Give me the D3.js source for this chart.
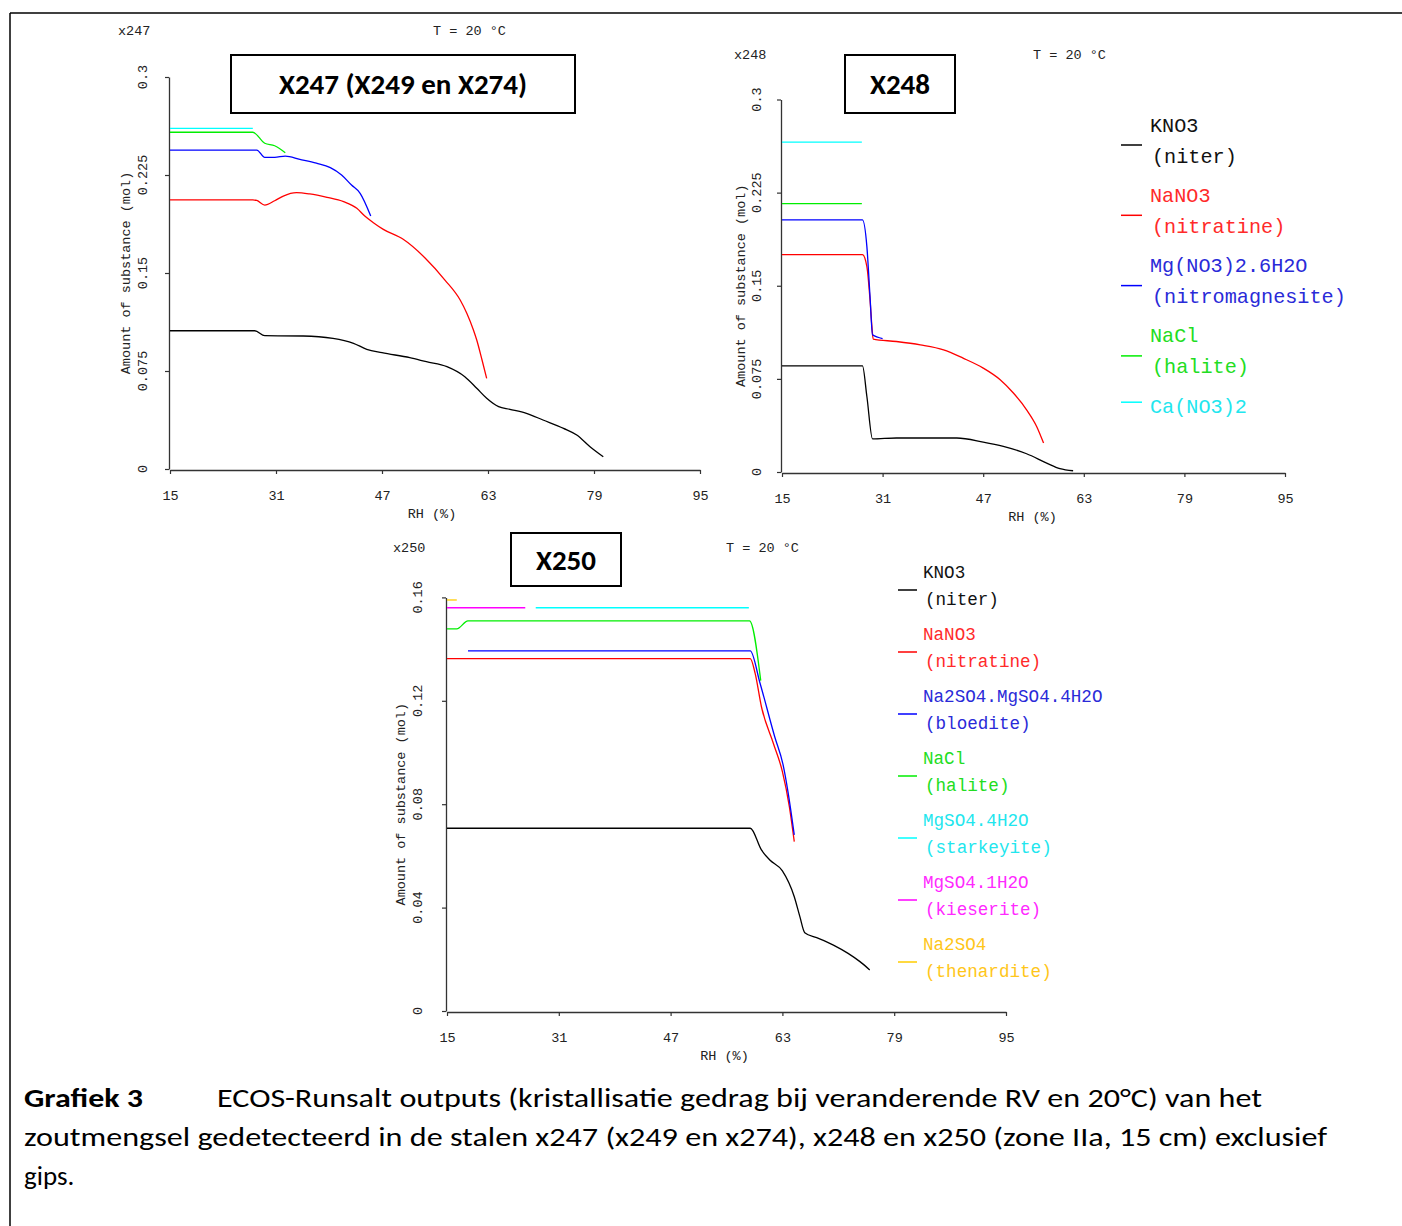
<!DOCTYPE html>
<html><head><meta charset="utf-8">
<script src="https://cdn.jsdelivr.net/npm/d3@7"></script>
<style>body{margin:0;background:#fff}svg{display:block}</style>
</head><body>
<svg id="c" width="1402" height="1226"></svg>
<script>
// ---------- DATA ----------
const RH_TICKS = [15, 31, 47, 63, 79, 95];
const Y_TICKS_A = [0, 0.075, 0.15, 0.225, 0.3];
const Y_TICKS_B = [0, 0.04, 0.08, 0.12, 0.16];

// x247 (x249 en x274)
const x247_KNO3 = [[15,0.1058],[27.8,0.1058],[29.3,0.1020],[35.1,0.1018],[39.6,0.1000],[42.7,0.0962],[44.7,0.0916],[47.0,0.0890],[51.2,0.0852],[53.7,0.0821],[56.8,0.0783],[59.5,0.0706],[61.3,0.0618],[62.8,0.0541],[64.6,0.0477],[66.3,0.0457],[68.8,0.0426],[71.3,0.0375],[74.4,0.0311],[76.4,0.0260],[78.4,0.0171],[80.4,0.0094]];
const x247_NaNO3 = [[15,0.2059],[27.5,0.2059],[28.1,0.2055],[29.3,0.2020],[30.8,0.2053],[32.1,0.2089],[34.1,0.2115],[36.1,0.2105],[38.7,0.2079],[41.2,0.2046],[43.2,0.1995],[44.4,0.1936],[45.7,0.1885],[47.2,0.1834],[50.2,0.1758],[53.5,0.1615],[56.5,0.1446],[58.8,0.1293],[59.8,0.1192],[60.8,0.1064],[61.3,0.0987],[62.1,0.0834],[62.8,0.0694]];
const x247_MgNO3 = [[15,0.2441],[27.5,0.2441],[28.1,0.2441],[29.3,0.2385],[30.8,0.2385],[32.4,0.2395],[34.6,0.2370],[37.1,0.2340],[39.2,0.2306],[40.9,0.2250],[42.4,0.2173],[43.7,0.2110],[45.3,0.1936]];
const x247_NaCl = [[15,0.2577],[27.5,0.2577],[29.3,0.2493],[30.8,0.2474],[32.4,0.2421]];
const x247_CaNO3 = [[15,0.2607],[27.5,0.2607]];

// x248
const x248_KNO3 = [[15,0.0855],[27.8,0.0855],[28.5,0.0608],[29.4,0.0266],[33.2,0.0274],[42.8,0.0274],[47.0,0.0241],[50.2,0.0206],[53.9,0.0147],[57.1,0.0072],[59.2,0.0027],[61.3,0.0010]];
const x248_NaNO3 = [[15,0.1751],[27.8,0.1751],[28.5,0.1654],[29.0,0.1387],[29.3,0.1172],[29.5,0.1070],[33.2,0.1051],[37.0,0.1024],[40.7,0.0984],[43.8,0.0917],[47.0,0.0837],[49.7,0.0743],[51.8,0.0636],[53.9,0.0501],[55.5,0.0367],[56.6,0.0233]];
const x248_MgNO3 = [[15,0.2030],[27.8,0.2030],[28.5,0.1815],[29.0,0.1413],[29.4,0.1105],[31.0,0.1075]];
const x248_NaCl = [[15,0.2161],[27.7,0.2161]];
const x248_CaNO3 = [[15,0.2656],[27.7,0.2656]];

// x250
const x250_KNO3 = [[15,0.0707],[58.4,0.0707],[60.0,0.0623],[61.2,0.0584],[63.0,0.0542],[64.7,0.0442],[65.5,0.0365],[66.2,0.0303],[67.9,0.0284],[70.3,0.0255],[72.4,0.0223],[74.1,0.0191],[75.5,0.0159]];
const x250_NaNO3 = [[15,0.1363],[58.4,0.1363],[59.1,0.1306],[60.0,0.1177],[61.7,0.1036],[63.0,0.0926],[64.0,0.0790],[64.7,0.0655]];
const x250_bloedite = [[18.0,0.1393],[58.4,0.1393],[59.8,0.1268],[61.9,0.1061],[63.1,0.0952],[63.8,0.0848],[64.7,0.0681]];
const x250_NaCl = [[15,0.1478],[16.4,0.1478],[18.0,0.1509],[58.3,0.1509],[59.9,0.1278]];
const x250_starkeyite = [[27.7,0.1560],[58.2,0.1560]];
const x250_kieserite = [[15,0.1560],[26.2,0.1560]];
const x250_thenardite = [[15,0.1590],[16.4,0.1590]];

const legendA = [["KNO3","(niter)"],["NaNO3","(nitratine)"],["Mg(NO3)2.6H2O","(nitromagnesite)"],["NaCl","(halite)"],["Ca(NO3)2",""]];
const legendB = [["KNO3","(niter)"],["NaNO3","(nitratine)"],["Na2SO4.MgSO4.4H2O","(bloedite)"],["NaCl","(halite)"],["MgSO4.4H2O","(starkeyite)"],["MgSO4.1H2O","(kieserite)"],["Na2SO4","(thenardite)"]];

// ---------- STYLE ----------
const LINE_COL = {black:"#000000", red:"#ff0000", blue:"#0000ff", green:"#00ee00", cyan:"#00ffff", magenta:"#ff00ff", yellow:"#ffcc00"};
const TEXT_COL = {black:"#111111", red:"#ff2a2a", blue:"#2a2ad8", green:"#22dd22", cyan:"#22e6ee", magenta:"#ff2aff", yellow:"#ffc61a"};
const MONO = "'Liberation Mono','Courier New',monospace";
const SANS = "Carlito,Lato,'Open Sans',sans-serif";

const svg = d3.select('#c');
svg.append('rect').attr('width',1402).attr('height',1226).attr('fill','#fff');
svg.append('line').attr('x1',10).attr('y1',13).attr('x2',1402).attr('y2',13).attr('stroke','#000').attr('stroke-width',1.5);
svg.append('line').attr('x1',10).attr('y1',13).attr('x2',10).attr('y2',1226).attr('stroke','#000').attr('stroke-width',1.5);

function drawChart(c) {
  const x = d3.scaleLinear().domain([15,95]).range([c.x0,c.x1]);
  const y = d3.scaleLinear().domain([0,c.ymax]).range([c.y0,c.y1]);
  const g = svg.append('g');
  const xa = g.append('g').attr('transform',`translate(0,${c.y0+1})`)
    .call(d3.axisBottom(x).tickValues(RH_TICKS).tickSize(4).tickSizeOuter(0).tickPadding(16));
  const ya = g.append('g').attr('transform',`translate(${c.x0-1},0)`)
    .call(d3.axisLeft(y).tickValues(c.yticks).tickSize(4).tickSizeOuter(0).tickFormat(''));
  [xa,ya].forEach(a=>{
    a.select('.domain').attr('stroke','#333').attr('stroke-width',1.3);
    a.selectAll('.tick line').attr('stroke','#333').attr('stroke-width',1.2);
    a.selectAll('text').attr('font-family',MONO).attr('font-size',13.5).attr('fill','#222');
  });
  g.selectAll('.ytl').data(c.yticks).enter().append('text')
    .attr('transform',d=>`translate(${c.ylx},${y(d)}) rotate(-90)`)
    .attr('text-anchor','middle').attr('dominant-baseline','central')
    .attr('font-family',MONO).attr('font-size',13.5).attr('fill','#222')
    .text(d=>String(d));
  g.append('text').attr('transform',`translate(${c.ytx},${(c.y0+c.y1)/2}) rotate(-90)`)
    .attr('text-anchor','middle').attr('dominant-baseline','central')
    .attr('font-family',MONO).attr('font-size',13.5).attr('fill','#222')
    .text('Amount of substance (mol)');
  g.append('text').attr('x',(c.x0+c.x1)/2+ (c.rhdx||0)).attr('y',c.y0+49).attr('text-anchor','middle')
    .attr('font-family',MONO).attr('font-size',13.5).attr('fill','#222').text('RH (%)');
  g.append('text').attr('x',c.namex).attr('y',c.heady).attr('font-family',MONO).attr('font-size',13.5).attr('fill','#222').text(c.name);
  g.append('text').attr('x',c.tx).attr('y',c.heady).attr('font-family',MONO).attr('font-size',13.5).attr('fill','#222').text('T = 20 °C');
  const line = d3.line().x(d=>x(d[0])).y(d=>y(d[1])).curve(d3.curveMonotoneX);
  c.series.forEach(s=>{
    g.append('path').attr('d',line(s.data)).attr('fill','none')
      .attr('stroke',LINE_COL[s.col]).attr('stroke-width',1.3).attr('stroke-linejoin','round');
  });
  const b = c.box;
  g.append('rect').attr('x',b[0]).attr('y',b[1]).attr('width',b[2]-b[0]).attr('height',b[3]-b[1])
    .attr('fill','#fff').attr('stroke','#000').attr('stroke-width',2);
  g.append('text').attr('x',(b[0]+b[2])/2).attr('y',(b[1]+b[3])/2).attr('text-anchor','middle')
    .attr('dominant-baseline','central').attr('font-family',SANS).attr('font-weight','bold')
    .attr('font-size',29).attr('fill','#000').text(c.boxText);
}

function drawLegend(items, cols, L) {
  const g = svg.append('g');
  items.forEach((it,i)=>{
    const ny = L.y + i*L.step;
    g.append('text').attr('x',L.tx).attr('y',ny).attr('dominant-baseline','central')
      .attr('font-family',MONO).attr('font-size',L.fs).attr('fill',TEXT_COL[cols[i]]).text(it[0]);
    let ly = ny - 5;
    if (it[1]) {
      g.append('text').attr('x',L.tx+2).attr('y',ny+L.gap).attr('dominant-baseline','central')
        .attr('font-family',MONO).attr('font-size',L.fs).attr('fill',TEXT_COL[cols[i]]).text(it[1]);
      ly = ny + L.lineOff;
    }
    g.append('line').attr('x1',L.lx0).attr('x2',L.lx1).attr('y1',ly).attr('y2',ly)
      .attr('stroke',LINE_COL[cols[i]]).attr('stroke-width',1.5);
  });
}

drawChart({x0:170,x1:700,y0:469,y1:77,ymax:0.3,yticks:Y_TICKS_A,ylx:143,ytx:126,
  name:'x247',namex:118,tx:433,heady:35,rhdx:-3,
  box:[231,55,575,113],boxText:'X247 (X249 en X274)',
  series:[{data:x247_KNO3,col:'black'},{data:x247_NaNO3,col:'red'},{data:x247_MgNO3,col:'blue'},{data:x247_NaCl,col:'green'},{data:x247_CaNO3,col:'cyan'}]});

drawChart({x0:782,x1:1285,y0:472,y1:99.5,ymax:0.3,yticks:Y_TICKS_A,ylx:757,ytx:741,
  name:'x248',namex:734,tx:1033,heady:59,rhdx:-1,
  box:[845,55,955,113],boxText:'X248',
  series:[{data:x248_KNO3,col:'black'},{data:x248_NaNO3,col:'red'},{data:x248_MgNO3,col:'blue'},{data:x248_NaCl,col:'green'},{data:x248_CaNO3,col:'cyan'}]});

drawChart({x0:447,x1:1006,y0:1011,y1:597.4,ymax:0.16,yticks:Y_TICKS_B,ylx:418,ytx:401,
  name:'x250',namex:393,tx:726,heady:552,rhdx:-2,
  box:[511,533,621,586],boxText:'X250',
  series:[{data:x250_KNO3,col:'black'},{data:x250_NaNO3,col:'red'},{data:x250_bloedite,col:'blue'},{data:x250_NaCl,col:'green'},{data:x250_starkeyite,col:'cyan'},{data:x250_kieserite,col:'magenta'},{data:x250_thenardite,col:'yellow'}]});

drawLegend(legendA, ['black','red','blue','green','cyan'],
  {y:126,step:70.3,gap:31,lineOff:19,tx:1150,lx0:1121,lx1:1142,fs:20.2});
drawLegend(legendB, ['black','red','blue','green','cyan','magenta','yellow'],
  {y:573,step:62,gap:27,lineOff:17,tx:923,lx0:898,lx1:917,fs:17.6});

// caption
const cap = svg.append('g').attr('font-family',SANS).attr('font-size',27).attr('fill','#000');
cap.append('text').attr('x',24).attr('y',1107).attr('font-weight','bold').attr('textLength',119).attr('lengthAdjust','spacingAndGlyphs').text('Grafiek 3');
cap.append('text').attr('x',217).attr('y',1107).attr('textLength',1045).attr('lengthAdjust','spacingAndGlyphs')
  .text('ECOS-Runsalt outputs (kristallisatie gedrag bij veranderende RV en 20°C) van het');
cap.append('text').attr('x',24).attr('y',1146).attr('textLength',1303).attr('lengthAdjust','spacingAndGlyphs')
  .text('zoutmengsel gedetecteerd in de stalen x247 (x249 en x274), x248 en x250 (zone IIa, 15 cm) exclusief');
cap.append('text').attr('x',24).attr('y',1185).text('gips.');
</script>
</body></html>
